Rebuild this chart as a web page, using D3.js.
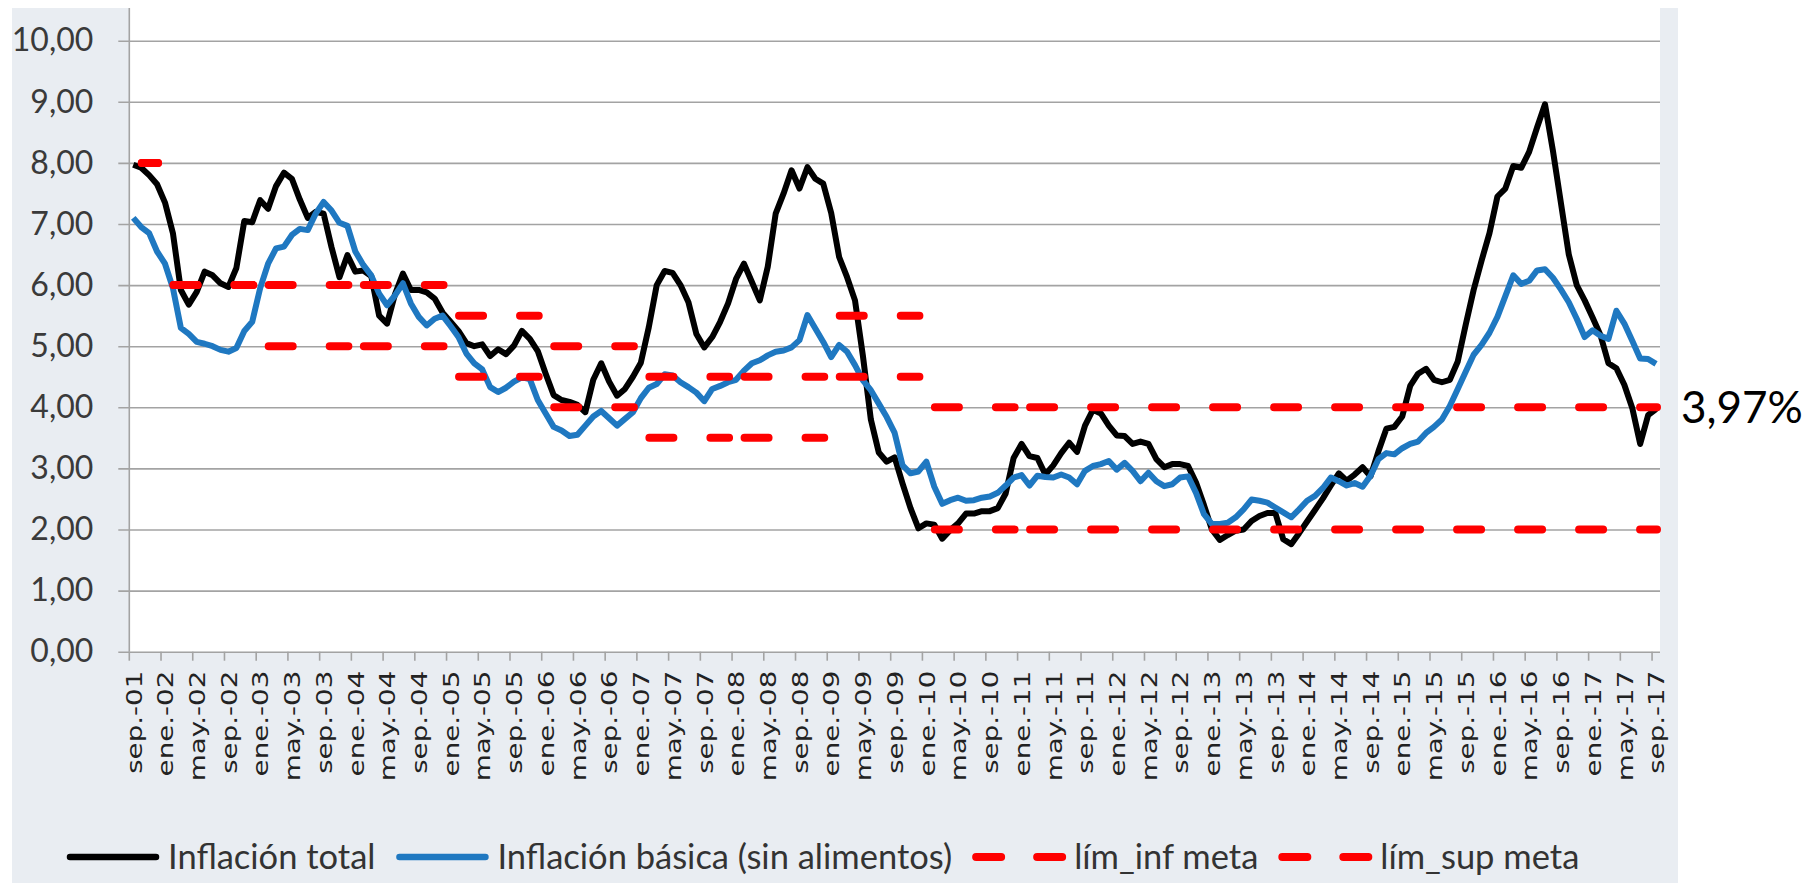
<!doctype html>
<html>
<head>
<meta charset="utf-8">
<script src="https://cdnjs.cloudflare.com/ajax/libs/d3/7.8.5/d3.min.js"></script>
<style>
  body { margin: 0; background: #ffffff; }
  svg { display: block; }
</style>
</head>
<body>
<svg id="chart" width="1818" height="883"></svg>
<script>
    // nombres de meses (categorias sep-01 .. sep-17)
    var mesesAbrev = ["ene.", "feb.", "mar.", "abr.", "may.", "jun.", "jul.", "ago.", "sep.", "oct.", "nov.", "dic."];
    var meses = [];
    for (var a = 2001; a <= 2017; a++) {
        for (var m = 0; m < 12; m++) {
            if (a == 2001 && m < 8) continue;
            if (a == 2017 && m > 8) continue;
            meses.push(mesesAbrev[m] + "-" + String(a).slice(2));
        }
    }

    // Inflación total (variacion anual, %)
    var inflacionTotal = [
        7.97, 7.92, 7.80, 7.65,
        7.35, 6.85, 5.92, 5.68, 5.89, 6.22, 6.16, 6.03, 5.97, 6.28, 7.05, 7.03,
        7.39, 7.25, 7.62, 7.84, 7.74, 7.40, 7.10, 7.20, 7.17, 6.62, 6.13, 6.49,
        6.22, 6.24, 6.15, 5.50, 5.37, 5.85, 6.19, 5.92, 5.92, 5.88, 5.78, 5.55,
        5.40, 5.25, 5.05, 5.00, 5.03, 4.84, 4.95, 4.87, 5.01, 5.25, 5.12, 4.92,
        4.55, 4.20, 4.12, 4.09, 4.04, 3.92, 4.45, 4.72, 4.42, 4.19, 4.30, 4.50,
        4.73, 5.31, 6.00, 6.23, 6.20, 6.00, 5.72, 5.20, 4.98, 5.15, 5.40, 5.70,
        6.10, 6.35, 6.05, 5.75, 6.30, 7.17, 7.50, 7.88, 7.58, 7.93, 7.74, 7.66,
        7.18, 6.46, 6.13, 5.75, 4.84, 3.80, 3.26, 3.11, 3.18, 2.75, 2.35, 2.02,
        2.10, 2.08, 1.85, 1.99, 2.10, 2.26, 2.26, 2.30, 2.30, 2.35, 2.59, 3.17,
        3.40, 3.20, 3.17, 2.90, 3.05, 3.25, 3.42, 3.27, 3.70, 3.96, 3.90, 3.70,
        3.54, 3.53, 3.40, 3.44, 3.40, 3.15, 3.02, 3.07, 3.07, 3.04, 2.77, 2.40,
        2.00, 1.83, 1.91, 1.98, 2.00, 2.14, 2.22, 2.27, 2.27, 1.84, 1.76, 1.94,
        2.13, 2.32, 2.51, 2.72, 2.92, 2.80, 2.90, 3.02, 2.87, 3.28, 3.65, 3.68,
        3.85, 4.35, 4.55, 4.63, 4.45, 4.41, 4.45, 4.75, 5.35, 5.92, 6.40, 6.85,
        7.45, 7.58, 7.95, 7.92, 8.18, 8.58, 8.96, 8.20, 7.35, 6.50, 6.00, 5.75,
        5.47, 5.18, 4.72, 4.64, 4.37, 3.99, 3.40, 3.87, 3.97
    ];

    // Inflación básica (sin alimentos)
    var inflacionBasica = [
        7.10, 6.95, 6.85, 6.55,
        6.35, 5.95, 5.30, 5.20, 5.07, 5.04, 5.00, 4.94, 4.91, 4.97, 5.25, 5.40,
        5.95, 6.35, 6.60, 6.63, 6.82, 6.92, 6.90, 7.17, 7.36, 7.22, 7.02, 6.97,
        6.55, 6.33, 6.16, 5.86, 5.67, 5.83, 6.03, 5.70, 5.48, 5.34, 5.45, 5.50,
        5.33, 5.15, 4.88, 4.72, 4.62, 4.33, 4.25, 4.32, 4.42, 4.49, 4.46, 4.12,
        3.90, 3.68, 3.62, 3.53, 3.55, 3.70, 3.85, 3.94, 3.82, 3.70, 3.81, 3.92,
        4.15, 4.32, 4.38, 4.54, 4.52, 4.41, 4.33, 4.24, 4.10, 4.30, 4.35, 4.41,
        4.45, 4.60, 4.72, 4.77, 4.85, 4.91, 4.93, 4.98, 5.10, 5.51, 5.29, 5.07,
        4.82, 5.02, 4.91, 4.69, 4.44, 4.28, 4.06, 3.84, 3.58, 3.05, 2.92, 2.95,
        3.11, 2.70, 2.42, 2.48, 2.52, 2.47, 2.48, 2.52, 2.54, 2.60, 2.72, 2.85,
        2.89, 2.72, 2.88, 2.86, 2.85, 2.90, 2.85, 2.74, 2.96, 3.04, 3.07, 3.12,
        2.98, 3.09, 2.96, 2.79, 2.93, 2.79, 2.71, 2.74, 2.85, 2.87, 2.60, 2.25,
        2.09, 2.09, 2.11, 2.20, 2.33, 2.49, 2.47, 2.44, 2.36, 2.28, 2.20, 2.33,
        2.47, 2.55, 2.68, 2.85, 2.79, 2.72, 2.76, 2.70, 2.88, 3.15, 3.25, 3.23,
        3.33, 3.40, 3.44, 3.58, 3.68, 3.80, 4.02, 4.30, 4.58, 4.86, 5.02, 5.22,
        5.48, 5.82, 6.16, 6.02, 6.07, 6.24, 6.26, 6.12, 5.93, 5.72, 5.45, 5.15,
        5.26, 5.17, 5.12, 5.58, 5.37, 5.09, 4.80, 4.79, 4.71
    ];

    // metas de inflacion por tramo
    var metaDesde = ["sep.-01", "ene.-02", "ene.-03", "ene.-04", "ene.-05", "ene.-06", "ene.-07", "ene.-08", "ene.-09", "ene.-10", "ene.-11"];
    var metaHasta = ["dic.-01", "dic.-02", "dic.-03", "dic.-04", "dic.-05", "dic.-06", "dic.-07", "dic.-08", "dic.-09", "dic.-10", "sep.-17"];
    var limInf = [8, 6, 5, 5, 4.5, 4, 3.5, 3.5, 4.5, 2, 2];
    var limSup = [8, 6, 6, 6, 5.5, 5, 4.5, 4.5, 5.5, 4, 4];

    var ticksY = [0, 1, 2, 3, 4, 5, 6, 7, 8, 9, 10];
    var ultimoDato = "3,97%";

    var svg = d3.select("#chart");
    var plotLeft = 129.3, plotRight = 1660, plotTop = 40.7, plotBottom = 651.7;

    var x = d3.scaleBand().domain(meses).range([plotLeft, plotRight]).padding(0);
    var y = d3.scaleLinear().domain([0, 10]).range([plotBottom, plotTop]);
    var fmt = function(v) { return d3.format(".2f")(v).replace(".", ","); };

    // fondo del grafico y area de trazado
    svg.append("rect").attr("x", 12).attr("y", 8).attr("width", 1666).attr("height", 875)
        .attr("fill", "#e9edf2");
    svg.append("rect").attr("x", plotLeft).attr("y", 8).attr("width", plotRight - plotLeft).attr("height", plotBottom - 8)
        .attr("fill", "#ffffff");

    // lineas de division horizontales + eje y
    var yAxis = d3.axisLeft(y).tickValues(ticksY).tickSize(-(plotRight - plotLeft)).tickSizeOuter(0).tickFormat(fmt);
    var gy = svg.append("g").attr("transform", "translate(" + plotLeft + ",0)").call(yAxis);
    gy.select(".domain").remove();
    gy.selectAll(".tick line").attr("x1", -11).attr("stroke", "#a3a3a3").attr("stroke-width", 1.6);
    gy.selectAll(".tick text")
        .attr("x", -36)
        .attr("font-family", "Lato, 'Open Sans', sans-serif").attr("font-size", 32)
        .attr("fill", "#3a3a3a");

    svg.append("line").attr("x1", plotLeft).attr("x2", plotLeft).attr("y1", 8).attr("y2", plotBottom)
        .attr("stroke", "#a3a3a3").attr("stroke-width", 1.6);

    // eje x: marcas cada 4 meses
    var etiquetas = meses.filter(function(d, i) { return i % 4 == 0; });
    var gx = svg.append("g");
    gx.selectAll("line").data(etiquetas).enter().append("line")
        .attr("x1", function(d) { return x(d); })
        .attr("x2", function(d) { return x(d); })
        .attr("y1", plotBottom).attr("y2", plotBottom + 9)
        .attr("stroke", "#a3a3a3").attr("stroke-width", 1.6);
    gx.selectAll("text").data(etiquetas).enter().append("text")
        .attr("transform", function(d) {
            return "translate(" + (x(d) + x.bandwidth() / 2 + 3) + "," + (plotBottom + 19) + ") rotate(-90) scale(1.32,1)";
        })
        .attr("text-anchor", "end")
        .attr("dy", "0.25em")
        .attr("font-family", "'DejaVu Sans', sans-serif")
        .attr("font-size", 21)
        .attr("fill", "#222222")
        .text(function(d) { return d; });

    // series
    var linea = d3.line()
        .x(function(d, i) { return x(meses[i]) + x.bandwidth() / 2; })
        .y(function(d) { return y(d); });

    svg.append("path").datum(inflacionTotal).attr("d", linea)
        .attr("fill", "none").attr("stroke", "#000000").attr("stroke-width", 6)
        .attr("stroke-linejoin", "round");
    svg.append("path").datum(inflacionBasica).attr("d", linea)
        .attr("fill", "none").attr("stroke", "#1f78c1").attr("stroke-width", 6)
        .attr("stroke-linejoin", "round");

    // metas (rayas rojas), un tramo por periodo
    function dibujaMeta(valores) {
        svg.append("g").selectAll("line").data(valores).enter().append("line")
            .attr("x1", function(d, i) { return x(metaDesde[i]); })
            .attr("x2", function(d, i) { return x(metaHasta[i]) + x.bandwidth() - 3; })
            .attr("y1", function(d) { return y(d); })
            .attr("y2", function(d) { return y(d); })
            .attr("stroke", "#ff0000").attr("stroke-width", 8)
            .attr("stroke-linecap", "round")
            .attr("stroke-dasharray", "24,37")
            .attr("stroke-dashoffset", 48.5);
    }
    dibujaMeta(limInf);
    dibujaMeta(limSup);

    // etiqueta del ultimo dato
    svg.append("text").attr("x", 1681).attr("y", y(4)).attr("dy", "0.36em")
        .attr("font-family", "Lato, 'Open Sans', sans-serif").attr("font-size", 44)
        .attr("fill", "#000000").text(ultimoDato);

    // leyenda
    var leyenda = [
        { nombre: "Inflación total", color: "#000000", raya: false },
        { nombre: "Inflación básica (sin alimentos)", color: "#1f78c1", raya: false },
        { nombre: "lím_inf meta", color: "#ff0000", raya: true },
        { nombre: "lím_sup meta", color: "#ff0000", raya: true }
    ];
    var lx = 66, ly = 857;
    leyenda.forEach(function(d) {
        var g = svg.append("g");
        var l = g.append("line").attr("x1", lx + 4).attr("x2", lx + 90).attr("y1", ly).attr("y2", ly)
            .attr("stroke", d.color).attr("stroke-linecap", "round");
        if (d.raya) {
            l.attr("stroke-width", 8).attr("stroke-dasharray", "25,36");
        } else {
            l.attr("stroke-width", 6.5);
        }
        var t = g.append("text").attr("x", lx + 102).attr("y", ly).attr("dy", "0.36em")
            .attr("font-family", "Lato, 'Open Sans', sans-serif").attr("font-size", 34.5)
            .attr("fill", "#333333").text(d.nombre);
        lx = lx + 102 + t.node().getComputedTextLength() + 20;
    });
</script>
</body>
</html>
